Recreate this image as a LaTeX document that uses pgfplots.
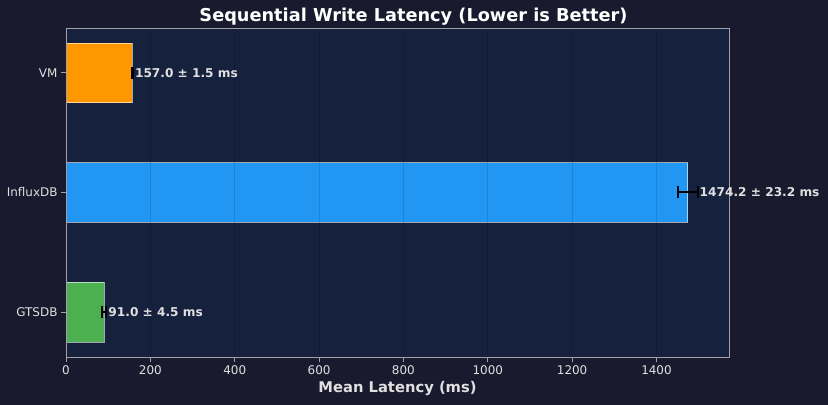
\documentclass[border=0pt]{standalone}
\usepackage{fontspec}
\setmainfont{DejaVu Sans}
\usepackage{pgfplots}
\pgfplotsset{compat=1.18}
\definecolor{figbg}{HTML}{1A1A2E}
\definecolor{axbg}{HTML}{16213E}
\definecolor{txt}{HTML}{E0E0E0}
\definecolor{spine}{HTML}{A0A0A8}
\definecolor{cvm}{HTML}{FF9800}
\definecolor{cinflux}{HTML}{2196F3}
\definecolor{cgts}{HTML}{4CAF50}
\pgfplotsset{
  errbar/.style={
    error bars/.cd, x dir=both, x explicit,
    error bar style={draw=black, draw opacity=1, line width=2bp},
    error mark options={draw=black, draw opacity=1, line width=2bp, mark size=6bp, rotate=90}},
}
\begin{document}
\begin{tikzpicture}
\fill[figbg] (-66bp,-48bp) rectangle (762bp,357bp);
\path[use as bounding box] (-66bp,-48bp) rectangle (762bp,357bp);
\begin{axis}[
  scale only axis,
  width=663bp, height=329bp,
  xmin=0, xmax=1572,
  ymin=-0.375, ymax=2.375,
  xbar, bar width=0.5,
  bar shift=0pt,
  axis background/.style={fill=axbg},
  axis line style={spine, line width=0.9bp},
  axis on top,
  grid=major, ymajorgrids=false,
  major grid style={black, opacity=0.12, line width=0.8bp},
  ytick={0,1,2},
  yticklabels={GTSDB,InfluxDB,VM},
  xtick={0,200,...,1400},
  tick style={spine, line width=0.9bp},
  major tick length=5bp,
  tick align=outside,
  xtick pos=bottom, ytick pos=left,
  ticklabel style={font=\fontsize{12}{14}\selectfont, text=txt},
  /pgf/number format/assume math mode=true,
  /pgf/number format/1000 sep={},
  xlabel={\bfseries Mean Latency (ms)},
  xlabel style={font=\fontsize{14.8}{17}\selectfont, text=txt},
  title={\bfseries Sequential Write Latency (Lower is Better)},
  title style={font=\fontsize{17.8}{20}\selectfont, text=white, yshift=-7bp, xshift=16bp},
]
\addplot[fill=cgts, draw=white, draw opacity=0.6, line width=0.8bp, errbar]
  coordinates {(91.0,0) +- (4.5,0)};
\addplot[fill=cinflux, draw=white, draw opacity=0.6, line width=0.8bp, errbar]
  coordinates {(1474.2,1) +- (23.2,0)};
\addplot[fill=cvm, draw=white, draw opacity=0.6, line width=0.8bp, errbar]
  coordinates {(157.0,2) +- (1.5,0)};
\addplot[draw=none, xbar=0pt, fill=none, bar width=0, point meta=explicit symbolic,
  nodes near coords, nodes near coords align={anchor=west},
  every node near coord/.append style={anchor=west, inner sep=0pt, xshift=2bp,
    text=txt, font=\fontsize{12.2}{15}\selectfont\bfseries}]
  coordinates {
    (95.5,0) [91.0 ± 4.5 ms]
    (1497.4,1) [1474.2 ± 23.2 ms]
    (158.5,2) [157.0 ± 1.5 ms]
  };
\end{axis}
\end{tikzpicture}
\end{document}
